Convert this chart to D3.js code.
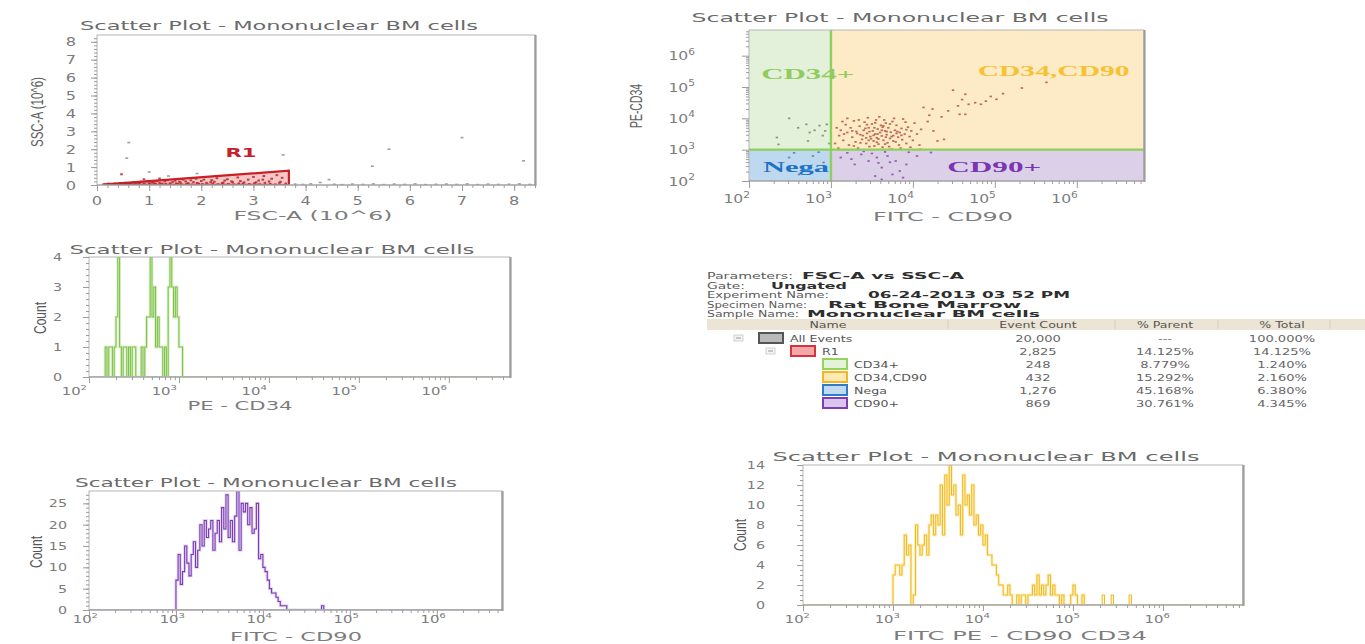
<!DOCTYPE html>
<html><head><meta charset="utf-8">
<script src="https://cdn.jsdelivr.net/npm/d3@7"></script>
<style>body{margin:0;background:#fff;overflow:hidden}svg{display:block}</style>
</head><body>
<script>
// ================= DATA =================
const plotTitle = "Scatter Plot - Mononuclear BM cells";

// Panel A : FSC-A vs SSC-A (x10^6)
const linTickValues = [0, 1, 2, 3, 4, 5, 6, 7, 8];
const r1GateVertices = [[0.10, 0.02], [3.68, 0.80], [3.68, 0.00]];
const r1Label = "R1";
const r1LabelAt = [2.76, 1.84];
const gatedEvents = [[0.15,0.03],[0.2,0.05],[0.25,0.02],[0.3,0.06],[0.35,0.08],[0.4,0.04],[0.45,0.1],[0.5,0.06],[0.55,0.12],[0.6,0.03],[0.65,0.09],[0.7,0.15],[0.75,0.05],[0.8,0.12],[0.85,0.18],[0.9,0.08],[0.95,0.2],[1.0,0.1],[1.05,0.16],[1.1,0.05],[1.15,0.22],[1.2,0.12],[1.25,0.08],[1.3,0.2],[1.35,0.26],[1.4,0.1],[1.45,0.17],[1.5,0.24],[1.55,0.06],[1.6,0.14],[1.65,0.3],[1.7,0.2],[1.75,0.1],[1.8,0.26],[1.85,0.16],[1.9,0.35],[1.95,0.08],[2.0,0.22],[2.05,0.3],[2.1,0.12],[2.2,0.27],[2.25,0.18],[2.3,0.38],[2.4,0.1],[2.45,0.25],[2.5,0.32],[2.6,0.16],[2.7,0.42],[2.75,0.22],[2.8,0.08],[2.9,0.3],[3.0,0.45],[3.05,0.15],[3.1,0.25],[3.2,0.5],[3.3,0.2],[3.35,0.35],[3.45,0.55],[3.5,0.12],[3.55,0.4],[0.47,0.6],[0.9,0.32],[1.2,0.36],
 [0.22,0.08],[0.32,0.02],[0.42,0.07],[0.52,0.02],[0.62,0.07],[0.72,0.03],[0.82,0.05],[0.92,0.02],[1.02,0.05],[1.12,0.09],[1.22,0.03],[1.32,0.06],[1.42,0.03],[1.52,0.09],[1.62,0.04],[1.72,0.07],[1.82,0.02],[1.92,0.11],[2.02,0.05],[2.12,0.02],[2.22,0.08],[2.32,0.04],[2.42,0.13],[2.52,0.06],[2.62,0.03],[2.72,0.09],[2.82,0.15],[2.92,0.05],[3.02,0.1],[3.12,0.04],[3.22,0.12],[3.32,0.07],[3.42,0.03],[3.52,0.18],[3.62,0.08],[1.08,0.14],[1.58,0.19],[2.18,0.16],[2.58,0.2],[3.18,0.3]];
const otherEvents = [[0.61,2.37],[0.57,1.5],[1.0,0.72],[1.37,0.5],[1.92,0.64],[3.57,1.68],[5.28,1.05],[5.6,2.0],[7.0,2.65],[8.18,1.35],[4.28,0.14],[4.45,0.3],[3.8,0.05],[3.95,0.03],[4.1,0.06],[4.55,0.04],[4.7,0.02],[4.9,0.05],[5.1,0.03],[5.3,0.06],[5.5,0.02],[5.7,0.05],[5.9,0.03],[6.1,0.06],[6.3,0.02],[6.5,0.04],[6.7,0.05],[6.9,0.03],[7.1,0.06],[7.3,0.02],[7.5,0.05],[7.7,0.03],[7.9,0.04],[8.1,0.06],[8.3,0.03]];

// Panel B : FITC-CD90 vs PE-CD34 (log10 of intensity)
const logTickExponents = [2, 3, 4, 5, 6];
const quadrantNames = ["CD34+", "CD34,CD90", "Nega", "CD90+"];
const quadrantGate = 1e3;
const quadEvents = [
 [3.10,3.45],[3.12,3.62],[3.15,3.30],[3.18,3.80],[3.20,3.55],[3.22,3.15],[3.24,3.70],[3.26,3.40],[3.28,3.92],[3.30,3.25],[3.31,3.58],[3.33,3.05],[3.35,3.75],[3.36,3.48],[3.38,3.33],[3.40,3.62],[3.41,3.88],[3.43,3.20],[3.44,3.52],[3.46,3.70],[3.47,3.10],[3.48,3.42],[3.50,3.82],[3.51,3.60],[3.52,3.28],[3.54,3.50],[3.55,3.95],[3.56,3.38],[3.57,3.66],[3.58,3.18],[3.60,3.55],[3.61,3.78],[3.62,3.44],[3.63,3.08],[3.64,3.30],[3.66,3.60],[3.67,3.85],[3.68,3.48],[3.69,3.22],[3.70,3.70],[3.72,3.36],[3.73,3.56],[3.74,3.02],[3.75,3.90],[3.76,3.45],[3.78,3.62],[3.79,3.25],[3.80,3.78],[3.82,3.40],[3.83,3.15],[3.84,3.55],[3.86,3.68],[3.87,3.32],[3.88,3.98],[3.90,3.50],[3.92,3.20],[3.94,3.72],[3.96,3.42],[3.98,3.60],[4.00,3.30],[4.02,3.85],[4.05,3.50],[4.08,3.15],[4.10,3.65],[3.14,3.90],[3.20,4.00],[3.28,3.12],[3.34,3.95],[3.45,4.02],[3.53,3.12],[3.59,4.05],[3.65,3.95],[3.71,3.10],[3.77,4.00],[3.85,3.05],[3.91,3.88],[3.97,3.08],[3.05,3.20],[3.07,3.70],[3.09,3.05],[3.16,3.50],[3.39,3.45],[3.49,3.35],[3.63,3.72],[3.81,3.58],[3.57,3.50],[3.47,3.58],[3.67,3.40],[3.53,3.70],[3.43,3.38],
 [3.32,3.52],[3.42,3.68],[3.52,3.46],[3.58,3.34],[3.62,3.62],[3.68,3.58],[3.74,3.42],[3.80,3.52],[3.36,3.22],[3.46,3.30],[3.56,3.24],[3.66,3.18],[3.76,3.28],[3.86,3.46],[3.26,3.60],[3.44,3.80],[3.54,3.86],[3.64,3.76],[3.72,3.82],[3.92,3.64],
 [4.13,4.35],[4.24,4.30],[4.43,4.24],[4.49,4.90],[4.64,4.77],[4.57,4.13],[4.68,4.45],[4.76,4.50],[4.83,4.45],[5.02,4.61],[5.10,4.79],[5.33,4.97],[5.63,5.15],[4.64,4.13],[4.30,3.28],[4.38,3.33],[4.09,3.01],[4.89,4.55],[4.18,3.90],[4.25,3.60],[4.20,4.10],[4.35,4.05],[4.55,4.40],[4.60,4.60],[4.95,4.70],
 [2.49,4.00],[2.34,3.39],[2.36,3.17],[2.70,3.81],[2.74,3.55],[2.86,3.77],[2.95,3.81],[2.72,3.28],[2.90,3.45],[2.80,3.62],[2.60,3.70],[2.98,3.20],[2.93,3.60],
 [3.12,2.75],[3.29,2.53],[3.37,2.85],[3.46,2.64],[3.56,2.75],[3.62,2.43],[3.69,2.80],[3.75,2.21],[3.79,2.64],[3.84,2.32],[3.88,2.11],[3.62,2.05],[3.54,2.16],[4.05,2.80],[4.22,2.91],[3.92,2.53],[3.20,2.90],[3.40,2.95],[3.50,2.88],[3.66,2.93],[3.72,2.60],[3.95,2.92],[3.25,2.70],[3.58,2.58],
 [2.49,2.75],[2.65,2.43],[2.78,2.80],[2.91,2.59],[2.61,2.21],[2.85,2.92],[2.55,2.90]
];

// Panel C : PE-CD34 histogram (log10 bins)
const cd34BinStart = 2.16, cd34BinWidth = 0.02;
const cd34Counts = [0,1,0,1,1,0,1,2,4,1,0,1,1,0,1,0,1,1,0,0,0,1,0,1,2,2,4,2,3,1,2,1,1,0,1,0,3,4,3,2,3,2,1,1];
const cd34CountTicks = [0, 1, 2, 3, 4];

// Panel E : FITC-CD90 histogram
const cd90BinStart = 3.0, cd90BinWidth = 0.025;
const cd90Counts = [7,13,6,9,15,11,8,13,16,10,14,20,15,21,17,19,21,14,18,21,16,24,19,27,17,21,16,22,28,14,25,23,25,20,24,18,19,25,12,13,10,9,7,5,4,4,3,2,1,1,1,0,0,0,0,0,0,0,0,0,0,0,0,0,0,0,0,1,0];
const cd90CountTicks = [0, 5, 10, 15, 20, 25];

// Panel F : FITC PE (CD90 CD34) histogram
const dualBinStart = 3.0, dualBinWidth = 0.025;
const dualCounts = [3,4,4,3,4,7,5,6,0,1,8,6,5,6,7,5,8,9,7,9,8,12,7,13,10,14,11,12,9,10,7,13,10,11,9,12,8,9,7,8,6,7,5,5,4,4,3,2,2,1,1,2,1,0,0,1,0,1,1,0,1,1,2,1,3,1,2,1,2,3,1,2,1,1,0,1,0,0,0,1,2,1,0,0,1,0];
const dualTailBins = [[5.325,1],[5.425,1],[5.625,1]];
const dualCountTicks = [0, 2, 4, 6, 8, 10, 12, 14];

// Panel D : statistics table
const infoLabels = ["Parameters:", "Gate:", "Experiment Name:", "Specimen Name:", "Sample Name:"];
const infoValues = ["FSC-A vs SSC-A", "Ungated", "06-24-2013 03 52 PM", "Rat Bone Marrow", "Mononuclear BM cells"];
const tableHeaders = ["Name", "Event Count", "% Parent", "% Total"];
const popNames = ["All Events", "R1", "CD34+", "CD34,CD90", "Nega", "CD90+"];
const popLevels = [0, 1, 2, 2, 2, 2];
const popCounts = ["20,000", "2,825", "248", "432", "1,276", "869"];
const popParent = ["---", "14.125%", "8.779%", "15.292%", "45.168%", "30.761%"];
const popTotal = ["100.000%", "14.125%", "1.240%", "2.160%", "6.380%", "4.345%"];

// ================= STYLE =================
const FONT = "'DejaVu Sans', Verdana, sans-serif";
const NARROW = "'Liberation Sans Narrow','Liberation Sans',Arial,sans-serif";
const SERIF = "'Liberation Serif','DejaVu Serif',serif";
const TXT = "#7c7c7c";
const quadStyle = {
  "CD34+":     {fill: "#e3f0da", text: "#90cc5a"},
  "CD34,CD90": {fill: "#fdeac6", text: "#f6c232"},
  "Nega":      {fill: "#bdd8ef", text: "#1f72c4"},
  "CD90+":     {fill: "#dccfe8", text: "#7a36b2"}
};
const quadDot = {"CD34+": "#718f5c", "CD34,CD90": "#b5543c", "Nega": "#5b78ad", "CD90+": "#8a4aa8"};
const popBox = [
  {stroke: "#555555", fill: "#b9b9b9"},
  {stroke: "#d4343a", fill: "#f3a7a9"},
  {stroke: "#95d35f", fill: "#e3f2d8"},
  {stroke: "#f3b81f", fill: "#fde9b4"},
  {stroke: "#2f7ccc", fill: "#c0dbf1"},
  {stroke: "#7d3fb2", fill: "#dac6ec"}
];

// ================= HELPERS =================
const svg = d3.select("body").append("svg").attr("width", 1365).attr("height", 644);
svg.append("rect").attr("width", 1365).attr("height", 644).attr("fill", "#fff");

function txt(parent, x, y, str, o = {}) {
  const sx = o.sx || 1;
  const g = parent.append("g").attr("transform",
    `translate(${x},${y})` + (o.rot ? ` rotate(${o.rot})` : "") + (sx !== 1 ? ` scale(${sx},1)` : ""));
  const t = g.append("text").attr("text-anchor", o.anchor || "start")
    .attr("font-family", o.font || FONT).attr("font-size", o.size || 12)
    .attr("fill", o.fill || TXT).text(str);
  if (o.weight) t.attr("font-weight", o.weight);
  if (o.len) t.attr("textLength", o.len).attr("lengthAdjust", "spacingAndGlyphs");
  return t;
}
function logLabel(parent, x, y, exp, o = {}) {
  const s = o.size || 12;
  const g = parent.append("g").attr("transform", `translate(${x},${y}) scale(${o.sx || 1.3},1)`);
  const t = g.append("text").attr("text-anchor", "end").attr("font-family", FONT)
    .attr("font-size", s).attr("fill", TXT);
  t.append("tspan").text("10");
  t.append("tspan").attr("font-size", s * 0.68).attr("dy", -s * 0.45).text(exp);
}
function frame(g, b) {
  g.append("rect").attr("x", b.x0).attr("y", b.y0).attr("width", b.x1 - b.x0).attr("height", b.y1 - b.y0)
    .attr("fill", "none").attr("stroke", "#b5b5b5").attr("stroke-width", 1);
  g.append("line").attr("x1", b.x1 + 0.5).attr("x2", b.x1 + 0.5).attr("y1", b.y0).attr("y2", b.y1 + 1)
    .attr("stroke", "#9d9d9d").attr("stroke-width", 2.2);
  g.append("line").attr("x1", b.x0).attr("x2", b.x1).attr("y1", b.y1).attr("y2", b.y1)
    .attr("stroke", "#9a9a9a").attr("stroke-width", 1.2);
}
function ticks(g, axisFn, scale, values, len, tr) {
  g.append("g").attr("transform", tr)
    .call(axisFn(scale).tickValues(values).tickSize(len).tickSizeOuter(0).tickFormat(""))
    .call(s => { s.select(".domain").remove(); s.selectAll("line").attr("stroke", "#9c9c9c"); });
}
function logMinor(maxExp) {
  const v = [];
  for (let k = 2; k < 7; k++) for (let m = 2; m < 10; m++) { const val = m * Math.pow(10, k); if (Math.log10(val) <= maxExp) v.push(val); }
  return v;
}
function clip(id, b) {
  svg.append("clipPath").attr("id", id).append("rect").attr("x", b.x0).attr("y", b.y0).attr("width", b.x1 - b.x0).attr("height", b.y1 - b.y0);
}
const pow10 = e => Math.pow(10, e);

// ================= PANEL A =================
(function () {
  const b = {x0: 97, x1: 535, y0: 35, y1: 185};
  const g = svg.append("g");
  const xs = d3.scaleLinear([0, 8.4], [b.x0, b.x1]);
  const ys = d3.scaleLinear([0, 8.38], [b.y1, b.y0]);
  clip("clipA", b);
  const pg = g.append("g").attr("clip-path", "url(#clipA)");
  pg.append("path").attr("d", d3.line().x(d => xs(d[0])).y(d => ys(d[1])).curve(d3.curveLinearClosed)(r1GateVertices))
    .attr("fill", "#f1b4b4").attr("fill-opacity", 0.75).attr("stroke", "#c91f25").attr("stroke-width", 2.2);
  pg.selectAll(".oe").data(otherEvents).join("rect").attr("x", d => xs(d[0]) - 1.5).attr("y", d => ys(d[1]) - 0.8)
    .attr("width", 3).attr("height", 1.6).attr("fill", "#a0a0a0");
  pg.selectAll(".ge").data(gatedEvents).join("rect").attr("x", d => xs(d[0]) - 1.3).attr("y", d => ys(d[1]) - 1)
    .attr("width", 2.6).attr("height", 2).attr("fill", "#b8242a").attr("opacity", 0.85);
  frame(g, b);
  ticks(g, d3.axisLeft, ys, d3.range(0, 8.39, 0.2), 3, `translate(${b.x0},0)`);
  ticks(g, d3.axisLeft, ys, linTickValues, 6, `translate(${b.x0},0)`);
  ticks(g, d3.axisBottom, xs, d3.range(0, 8.41, 0.2), 3, `translate(0,${b.y1})`);
  ticks(g, d3.axisBottom, xs, linTickValues, 6, `translate(0,${b.y1})`);
  linTickValues.forEach(v => {
    txt(g, b.x0 - 21, ys(v) + 4.5, String(v), {anchor: "end", size: 12, sx: 1.35});
    txt(g, xs(v), 205, String(v), {anchor: "middle", size: 12, sx: 1.35});
  });
  txt(g, xs(r1LabelAt[0]), ys(r1LabelAt[1]) + 5, r1Label, {anchor: "middle", size: 12, weight: "bold", fill: "#c42228", len: 31});
  txt(g, 279, 30, plotTitle, {anchor: "middle", size: 13, fill: "#6a6a6a", len: 398});
  txt(g, 313, 220, "FSC-A (10^6)", {anchor: "middle", size: 13, len: 159});
  txt(g, 43, 112, "SSC-A (10^6)", {anchor: "middle", size: 17, rot: -90, font: NARROW, len: 70, fill: "#606060"});
})();

// ================= PANEL B =================
(function () {
  const b = {x0: 749, x1: 1144, y0: 30, y1: 181};
  const maxE = 6.82;
  const g = svg.append("g");
  const xs = d3.scaleLog([1e2, pow10(maxE)], [b.x0, b.x1]);
  const ys = d3.scaleLog([1e2, pow10(maxE)], [b.y1, b.y0]);
  const [lo, hi] = xs.domain();
  const quads = [
    {name: quadrantNames[0], x: [lo, quadrantGate], y: [quadrantGate, hi]},
    {name: quadrantNames[1], x: [quadrantGate, hi], y: [quadrantGate, hi]},
    {name: quadrantNames[2], x: [lo, quadrantGate], y: [lo, quadrantGate]},
    {name: quadrantNames[3], x: [quadrantGate, hi], y: [lo, quadrantGate]}
  ];
  g.selectAll(".q").data(quads).join("rect")
    .attr("x", d => xs(d.x[0])).attr("width", d => xs(d.x[1]) - xs(d.x[0]))
    .attr("y", d => ys(d.y[1])).attr("height", d => ys(d.y[0]) - ys(d.y[1]))
    .attr("fill", d => quadStyle[d.name].fill);
  const quadOf = (fx, py) => fx < quadrantGate ? (py < quadrantGate ? "Nega" : "CD34+") : (py < quadrantGate ? "CD90+" : "CD34,CD90");
  g.selectAll(".ev").data(quadEvents).join("rect")
    .attr("x", d => xs(pow10(d[0])) - 1.2).attr("y", d => ys(pow10(d[1])) - 0.8)
    .attr("width", 2.4).attr("height", 1.7)
    .attr("fill", d => quadDot[quadOf(pow10(d[0]), pow10(d[1]))]).attr("opacity", 0.85);
  g.append("line").attr("x1", xs(quadrantGate)).attr("x2", xs(quadrantGate)).attr("y1", b.y0).attr("y2", b.y1)
    .attr("stroke", "#8fcf5c").attr("stroke-width", 2.4);
  g.append("line").attr("x1", b.x0).attr("x2", b.x1).attr("y1", ys(quadrantGate)).attr("y2", ys(quadrantGate))
    .attr("stroke", "#8fcf5c").attr("stroke-width", 2.2);
  const qlab = [
    {name: quadrantNames[0], e: [2.15, 5.26], len: 93},
    {name: quadrantNames[1], e: [4.79, 5.36], len: 152},
    {name: quadrantNames[2], e: [2.17, 2.29], len: 66},
    {name: quadrantNames[3], e: [4.42, 2.29], len: 94}
  ];
  qlab.forEach(q => txt(g, xs(pow10(q.e[0])), ys(pow10(q.e[1])), q.name,
    {size: 15, weight: "bold", font: SERIF, fill: quadStyle[q.name].text, len: q.len}));
  frame(g, b);
  const maj = logTickExponents.map(pow10);
  ticks(g, d3.axisLeft, ys, logMinor(maxE), 3, `translate(${b.x0},0)`);
  ticks(g, d3.axisLeft, ys, maj, 7, `translate(${b.x0},0)`);
  ticks(g, d3.axisBottom, xs, logMinor(maxE), 3, `translate(0,${b.y1})`);
  ticks(g, d3.axisBottom, xs, maj, 7, `translate(0,${b.y1})`);
  logTickExponents.forEach(e => {
    logLabel(g, xs(pow10(e)) + 1, 203, e, {size: 12, sx: 1.3});
    logLabel(g, b.x0 - 54, ys(pow10(e)) + 4.5, e, {size: 12, sx: 1.3});
  });
  txt(g, 900, 22, plotTitle, {anchor: "middle", size: 13, fill: "#6a6a6a", len: 417});
  txt(g, 943, 221, "FITC - CD90", {anchor: "middle", size: 13, len: 140});
  txt(g, 642, 106, "PE-CD34", {anchor: "middle", size: 16, rot: -90, font: NARROW, len: 44, fill: "#606060"});
})();

// ================= HISTOGRAMS =================
function histogram(opt) {
  const b = opt.b;
  const g = svg.append("g");
  const xs = d3.scaleLog([1e2, pow10(opt.maxE)], [b.x0, b.x1]);
  const ys = d3.scaleLinear([0, opt.maxY], [b.y1, b.y0]);
  clip(opt.id, b);
  const pg = g.append("g").attr("clip-path", `url(#${opt.id})`);
  const pts = [[opt.start, 0]];
  opt.counts.forEach((c, i) => pts.push([opt.start + i * opt.width, c]));
  pts.push([opt.start + opt.counts.length * opt.width, 0]);
  const line = d3.line().x(d => xs(pow10(d[0]))).y(d => ys(d[1])).curve(d3.curveStepAfter);
  pg.append("path").attr("d", line(pts)).attr("fill", "none").attr("stroke", opt.light).attr("stroke-width", 3).attr("opacity", 0.55);
  pg.append("path").attr("d", line(pts)).attr("fill", "none").attr("stroke", opt.color).attr("stroke-width", 1.1);
  (opt.extra || []).forEach(d => {
    const p = [[d[0], 0], [d[0], d[1]], [d[0] + opt.width, 0]];
    pg.append("path").attr("d", line(p)).attr("fill", "none").attr("stroke", opt.color).attr("stroke-width", 1.1);
  });
  g.append("line").attr("x1", b.x0).attr("x2", b.x1).attr("y1", b.y1 - 0.5).attr("y2", b.y1 - 0.5).attr("stroke", opt.light).attr("stroke-width", 1.2);
  frame(g, b);
  const maj = logTickExponents.map(pow10);
  ticks(g, d3.axisBottom, xs, logMinor(opt.maxE), 3, `translate(0,${b.y1})`);
  ticks(g, d3.axisBottom, xs, maj, 6, `translate(0,${b.y1})`);
  ticks(g, d3.axisLeft, ys, d3.range(0, opt.maxY + 0.001, opt.minorY), 3, `translate(${b.x0},0)`);
  ticks(g, d3.axisLeft, ys, opt.yTicks, 6, `translate(${b.x0},0)`);
  logTickExponents.forEach(e => logLabel(g, xs(pow10(e)) + opt.labDx, opt.labY, e, {size: opt.fs, sx: 1.35}));
  opt.yTicks.forEach(v => txt(g, b.x0 - opt.yLabGap, ys(v) + 4, String(v), {anchor: "end", size: opt.fs, sx: 1.3}));
  txt(g, opt.title[0], opt.title[1], plotTitle, {anchor: "middle", size: 13, fill: "#6a6a6a", len: opt.title[2]});
  txt(g, opt.xlab[0], opt.xlab[1], opt.xlab[3], {anchor: "middle", size: 13, len: opt.xlab[2]});
  txt(g, opt.ylab[0], opt.ylab[1], "Count", {anchor: "middle", size: 17, rot: -90, font: NARROW, len: 32, fill: "#555"});
}

histogram({id: "clipC", b: {x0: 89, x1: 510, y0: 257, y1: 377}, maxE: 6.68, maxY: 4,
  start: cd34BinStart, width: cd34BinWidth, counts: cd34Counts, color: "#7ec24a", light: "#c4e6a8",
  yTicks: cd34CountTicks, minorY: 0.2, labDx: -2, labY: 395, fs: 11, yLabGap: 27,
  title: [272, 254, 405], xlab: [240, 410, 105, "PE - CD34"], ylab: [46, 318]});

histogram({id: "clipE", b: {x0: 89, x1: 502, y0: 491, y1: 610}, maxE: 6.75, maxY: 27.9,
  start: cd90BinStart, width: cd90BinWidth, counts: cd90Counts, color: "#7b3bb5", light: "#cdb6e6",
  yTicks: cd90CountTicks, minorY: 1, labDx: 9, labY: 623, fs: 11, yLabGap: 22,
  title: [266, 487, 382], xlab: [296, 641, 132, "FITC - CD90"], ylab: [42, 552]});

histogram({id: "clipF", b: {x0: 803, x1: 1243, y0: 465, y1: 605}, maxE: 6.89, maxY: 14,
  start: dualBinStart, width: dualBinWidth, counts: dualCounts, extra: dualTailBins, color: "#f2bb1d", light: "#fbe3a0",
  yTicks: dualCountTicks, minorY: 0.5, labDx: 7, labY: 623, fs: 11, yLabGap: 38,
  title: [986, 461, 427], xlab: [1020, 640, 254, "FITC PE - CD90 CD34"], ylab: [746, 535]});

// ================= TABLE =================
(function () {
  const g = svg.append("g");
  const lineY = [279, 289, 298, 308, 317];
  const labelLen = [86, 38, 122, 100, 92];
  const valueX = [802, 771, 868, 828, 807];
  const valueLen = [162, 76, 202, 193, 233];
  infoLabels.forEach((l, i) => {
    txt(g, 707, lineY[i], l, {size: 9.5, fill: "#5a5a5a", len: labelLen[i]});
    txt(g, valueX[i], lineY[i], infoValues[i], {size: 9.5, weight: "bold", fill: "#2e2e2e", len: valueLen[i]});
  });
  g.append("rect").attr("x", 707).attr("y", 319).attr("width", 658).attr("height", 11).attr("fill", "#ece5d5");
  [948, 1115, 1218, 1330].forEach(x => g.append("line").attr("x1", x).attr("x2", x).attr("y1", 320).attr("y2", 329).attr("stroke", "#d8cfbd"));
  const colX = [828, 1038, 1165, 1282];
  tableHeaders.forEach((h, i) => txt(g, colX[i], 328, h, {anchor: "middle", size: 9, fill: "#555", sx: 1.4}));
  const rowY = [338, 351, 364, 377, 390, 403];
  const boxX = [758, 790, 822];
  popNames.forEach((n, i) => {
    const lv = popLevels[i], y = rowY[i];
    if (lv < 2) {
      const mx = boxX[lv] - 24;
      g.append("rect").attr("x", mx).attr("y", y - 3).attr("width", 9).attr("height", 6).attr("fill", "#f4f4f4").attr("stroke", "#c8c8c8").attr("stroke-width", 0.8);
      g.append("line").attr("x1", mx + 2).attr("x2", mx + 7).attr("y1", y).attr("y2", y).attr("stroke", "#999").attr("stroke-width", 1);
    }
    g.append("rect").attr("x", boxX[lv] + 1).attr("y", y - 5).attr("width", 24).attr("height", 10)
      .attr("fill", popBox[i].fill).attr("stroke", popBox[i].stroke).attr("stroke-width", 2);
    txt(g, boxX[lv] + 32, y + 3.5, n, {size: 9, fill: "#555", sx: 1.4});
    txt(g, colX[1], y + 3.5, popCounts[i], {anchor: "middle", size: 9, fill: "#666", sx: 1.45});
    txt(g, colX[2], y + 3.5, popParent[i], {anchor: "middle", size: 9, fill: "#666", sx: 1.45});
    txt(g, colX[3], y + 3.5, popTotal[i], {anchor: "middle", size: 9, fill: "#666", sx: 1.45});
  });
})();
</script>
</body></html>
